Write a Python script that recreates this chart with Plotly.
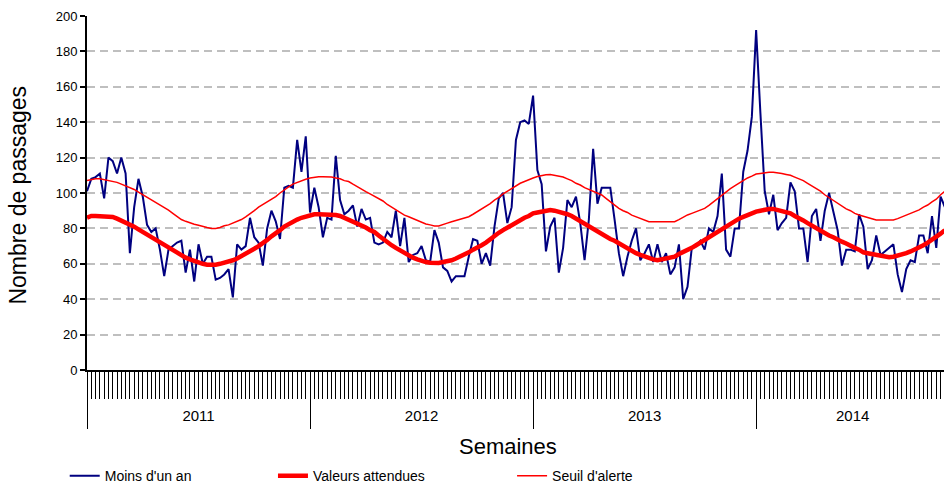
import plotly.graph_objects as go
import numpy as np

# Passages hebdomadaires, semaine 1 de 2011 -> semaine 45 de 2014
moins_un_an = [
    101, 108, 109, 111, 97, 120, 118, 111, 120, 111, 66, 92, 108, 98, 82, 78, 80, 68, 53, 68,
    70, 72, 73, 55, 68, 50, 71, 60, 64, 64, 51, 52, 54, 57, 41, 71, 68, 70, 86, 75,
    72, 59, 80, 90, 84, 74, 103, 104, 103, 130, 112, 132, 89, 103, 92, 75, 86, 85, 121, 96,
    88, 90, 93, 81, 91, 85, 86, 72, 71, 72, 78, 75, 90, 70, 86, 61, 65, 66, 70, 62,
    61, 79, 72, 58, 56, 50, 53, 53, 53, 64, 74, 73, 60, 66, 59, 81, 97, 100, 83, 92,
    130, 140, 141, 139, 155, 113, 105, 67, 81, 86, 55, 69, 96, 92, 98, 83, 62, 85, 125, 94,
    103, 103, 103, 85, 66, 53, 64, 73, 80, 62, 66, 71, 61, 71, 61, 66, 54, 58, 71, 40,
    47, 69, 70, 73, 68, 80, 78, 87, 111, 68, 64, 80, 80, 112, 124, 143, 192, 145, 101, 88,
    99, 79, 83, 86, 106, 101, 80, 80, 61, 87, 91, 73, 90, 100, 90, 79, 59, 68, 68, 67,
    88, 81, 57, 62, 76, 65, 67, 69, 71, 54, 44, 57, 62, 61, 76, 76, 66, 87, 69, 98,
    92,
]

valeurs_attendues = [
    86, 87, 87, 87, 87, 87, 86.5, 85.5, 84.5, 83.5, 82, 81, 79.5, 78, 77, 75.5, 74, 72, 70.5, 69,
    67.5, 66, 64.5, 63.5, 62.5, 61.5, 60.5, 60, 59.5, 59.3, 59.5, 60, 60.5, 61, 62, 63, 64.2, 65.5, 67, 68.5,
    70, 71.5, 73.5, 75.5, 77, 79, 81, 82.5, 84, 85, 86, 86.8, 87.3, 88, 88, 88, 88, 87.8, 87.6, 87,
    86, 85, 84, 83, 81.5, 80.5, 79, 78, 76, 74, 72, 70.5, 69, 67.5, 66, 64.5, 63.5, 62.5, 61.5, 61,
    60.6, 60.5, 60.5, 61, 61.3, 62, 63, 64, 65.5, 66.5, 68, 69, 70.5, 72, 74, 75.5, 77.5, 79, 80.5, 82,
    83.5, 84.8, 86, 87, 88.5, 89, 89.5, 90, 90.4, 90, 89.5, 89, 88, 87, 85.5, 84, 82.5, 81, 79.5, 78,
    76.5, 75, 74, 73, 71.5, 70, 68.5, 67, 66, 65, 64, 63, 62.5, 62, 62.5, 63, 63.5, 64, 65.5, 66.5,
    68, 69, 70.5, 72, 74, 75.5, 77, 78.5, 80, 81.5, 83, 84.5, 85.5, 86.5, 87.6, 88.5, 89.5, 90, 90.8, 91,
    91, 90.5, 90, 89.5, 88.5, 87, 86, 84.5, 83, 81.5, 80, 79, 77.5, 76, 75, 73.5, 72.5, 71.5, 70, 69,
    68, 66.5, 66, 65.5, 65, 64.5, 64, 63.7, 64, 64.5, 65, 66, 67, 68, 69, 70.5, 72, 73.5, 75, 77,
    79,
]

seuil_alerte = [
    107, 107.5, 108, 108, 107.5, 107, 106.5, 106, 105, 104, 103, 102, 100.5, 99, 97.5, 96.5, 95, 93.5, 92, 90.3,
    88.5, 86.5, 85, 84, 83, 82.3, 81.8, 81, 80.5, 80, 80, 80.5, 81.5, 82, 83, 84, 85, 86.5, 88, 90,
    92, 93.5, 95, 96.5, 98, 100, 102, 103.5, 105, 106, 107, 107.8, 108.5, 109, 109.2, 109.2, 109.2, 109, 108.5, 108,
    107, 106.5, 105, 103.5, 102, 100.8, 99.5, 98.3, 97, 95.5, 93.5, 92, 90.5, 89, 87.5, 86.6, 85.5, 84.5, 83.5, 82.5,
    82, 81.4, 81.4, 82, 83, 83.8, 84.5, 85, 86, 86.6, 88, 89.5, 91, 92.5, 94, 96, 97.5, 99.5, 101, 102.5,
    104, 105.5, 106.5, 107.7, 108.5, 109.3, 110, 110.3, 110.5, 110, 109.5, 109, 108, 107, 105.5, 104.5, 103, 102, 101, 100,
    98.9, 97, 95, 93, 91.3, 90, 89, 87.5, 86.6, 85.5, 84.5, 83.8, 83.8, 83.8, 83.8, 83.8, 83.8, 83.8, 85, 86.5,
    87.6, 88.5, 89.5, 90.5, 91.3, 93, 95, 97, 99, 101, 102.5, 104, 105.5, 107, 108.5, 109.5, 110.7, 111, 111.5, 111.7,
    111.7, 111.5, 111, 110.5, 110, 109, 108, 107, 105.5, 104, 102.5, 101, 99, 97.5, 95.5, 94, 92.5, 91, 90, 88.5,
    87.6, 87, 86, 85.5, 84.7, 84.7, 84.7, 84.7, 84.7, 85.5, 86.5, 87.5, 88.5, 89.5, 90.5, 92, 93.2, 95, 96.5, 99,
    101,
]

annees = ['2011', '2012', '2013', '2014']
semaines_par_annee = [52, 52, 52, 45]

semaines = np.arange(len(moins_un_an))
debut_annee = np.cumsum([0] + semaines_par_annee[:-1])
milieu_annee = debut_annee + np.array(semaines_par_annee) / 2

police = 'Liberation Sans, Arial, sans-serif'

fig = go.Figure()

fig.add_trace(go.Scatter(
    x=semaines, y=moins_un_an, mode='lines', name="Moins d'un an",
    line=dict(color='#000080', width=2), legend='legend'
))
fig.add_trace(go.Scatter(
    x=semaines, y=valeurs_attendues, mode='lines', name='Valeurs attendues',
    line=dict(color='#FF0000', width=4.5), legend='legend2'
))
fig.add_trace(go.Scatter(
    x=semaines, y=seuil_alerte, mode='lines', name="Seuil d'alerte",
    line=dict(color='#FF0000', width=1.5), legend='legend3'
))

# axe invisible qui porte seulement les libellés des années, centrés sur chaque année
fig.add_trace(go.Scatter(x=[None], y=[None], xaxis='x2', showlegend=False))

x_range = [0, 199.8]

legende = dict(orientation='h', yanchor='middle', y=-0.30, xanchor='left',
               bgcolor='rgba(0,0,0,0)', font=dict(size=14, family=police, color='black'))

fig.update_layout(
    width=944, height=486,
    margin=dict(l=87, r=0, t=16, b=116, autoexpand=False),
    plot_bgcolor='white', paper_bgcolor='white',
    font=dict(family=police, size=13, color='black'),
    legend=dict(legende, x=-0.026),
    legend2=dict(legende, x=0.217),
    legend3=dict(legende, x=0.496),
    xaxis=dict(
        range=x_range, showline=True, linecolor='black', linewidth=2,
        showgrid=False, zeroline=False,
        tickmode='array', tickvals=debut_annee, ticks='outside',
        ticklen=57, tickwidth=1.2, tickcolor='black', showticklabels=False,
        minor=dict(tickmode='linear', tick0=0, dtick=1, ticks='outside',
                   ticklen=27, tickwidth=1, tickcolor='black', showgrid=False),
    ),
    xaxis2=dict(
        overlaying='x', anchor='y', side='bottom', range=x_range,
        tickmode='array', tickvals=milieu_annee, ticktext=annees,
        ticks='outside', ticklen=32, tickcolor='rgba(0,0,0,0)',
        showline=False, showgrid=False, zeroline=False,
        tickfont=dict(size=15),
    ),
    yaxis=dict(
        range=[0, 200], tickmode='linear', tick0=0, dtick=20,
        showgrid=True, gridcolor='#BFBFBF', gridwidth=2, griddash='8px,5px',
        showline=True, linecolor='black', linewidth=2, zeroline=False,
        ticks='outside', ticklen=5, tickwidth=1.5, tickcolor='black',
        tickfont=dict(size=13),
    ),
    annotations=[
        dict(text='Semaines', xref='paper', yref='paper', x=0.491, y=-0.215,
             xanchor='center', yanchor='middle', showarrow=False, font=dict(size=22)),
        dict(text='Nombre de passages', xref='paper', yref='paper', x=-0.08, y=0.494,
             xanchor='center', yanchor='middle', textangle=-90, showarrow=False,
             font=dict(size=23)),
    ],
)

# la page par défaut ajoute une marge de 8 px autour du graphique
fig.write_html('out.html', config={'displayModeBar': False},
               post_script="document.body.style.margin = '0';")
